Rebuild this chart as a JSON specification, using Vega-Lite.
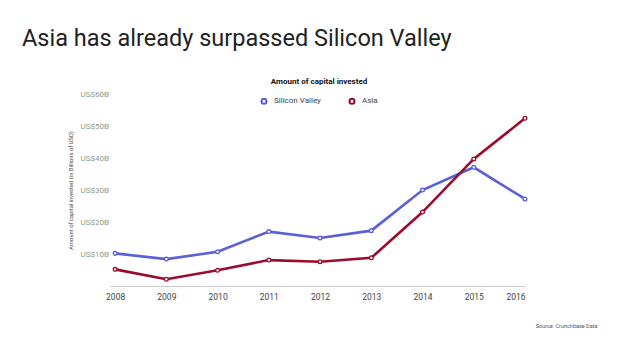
{
  "$schema": "https://vega.github.io/schema/vega-lite/v6.json",
  "width": 415,
  "height": 192,
  "autosize": "none",
  "padding": {"left": 110, "top": 94, "right": 93, "bottom": 59},
  "background": "white",
  "title": {
    "text": "Asia has already surpassed Silicon Valley",
    "anchor": "start",
    "frame": "group",
    "font": "Roboto",
    "fontSize": 23.5,
    "fontWeight": 400,
    "color": "#222222",
    "dx": -88,
    "offset": 28
  },
  "data": {
    "values": [
      {"year": 2008, "region": "Silicon Valley", "value": 10.2},
      {"year": 2009, "region": "Silicon Valley", "value": 8.4},
      {"year": 2010, "region": "Silicon Valley", "value": 10.7},
      {"year": 2011, "region": "Silicon Valley", "value": 17.0},
      {"year": 2012, "region": "Silicon Valley", "value": 15.0},
      {"year": 2013, "region": "Silicon Valley", "value": 17.3},
      {"year": 2014, "region": "Silicon Valley", "value": 30.0},
      {"year": 2015, "region": "Silicon Valley", "value": 37.1},
      {"year": 2016, "region": "Silicon Valley", "value": 27.2},
      {"year": 2008, "region": "Asia", "value": 5.2},
      {"year": 2009, "region": "Asia", "value": 2.1},
      {"year": 2010, "region": "Asia", "value": 4.9},
      {"year": 2011, "region": "Asia", "value": 8.1},
      {"year": 2012, "region": "Asia", "value": 7.6},
      {"year": 2013, "region": "Asia", "value": 8.8},
      {"year": 2014, "region": "Asia", "value": 23.1},
      {"year": 2015, "region": "Asia", "value": 39.7},
      {"year": 2016, "region": "Asia", "value": 52.4}
    ]
  },
  "encoding": {
    "x": {
      "field": "year",
      "type": "quantitative",
      "scale": {"domain": [2007.9, 2016], "nice": false, "zero": false},
      "axis": {
        "values": [2008, 2009, 2010, 2011, 2012, 2013, 2014, 2015, 2016],
        "format": "d",
        "grid": false,
        "ticks": false,
        "domainColor": "#cccccc",
        "labelColor": "#444444",
        "labelFont": "Roboto",
        "labelFontSize": 8.5,
        "labelPadding": 6,
        "title": "Source: Crunchbase Data",
        "titleFont": "Roboto",
        "titleFontSize": 5.5,
        "titleFontWeight": 400,
        "titleColor": "#555555",
        "titleAlign": "right",
        "titleBaseline": "middle",
        "titleX": 487,
        "titleY": 39
      }
    },
    "y": {
      "field": "value",
      "type": "quantitative",
      "scale": {"domain": [0, 60], "nice": false},
      "axis": {
        "values": [10, 20, 30, 40, 50, 60],
        "labelExpr": "'US$' + datum.value + 'B'",
        "grid": false,
        "ticks": false,
        "domain": false,
        "labelColor": "#879a8c",
        "labelFont": "Roboto",
        "labelFontSize": 8,
        "labelAlign": "left",
        "labelPadding": 30,
        "title": "Amount of capital invested (in Billions of USD)",
        "titleFont": "Roboto",
        "titleFontSize": 5.8,
        "titleFontWeight": 400,
        "titleColor": "#444444",
        "titleAngle": -90,
        "titleAlign": "center",
        "titleBaseline": "middle",
        "titleX": -40,
        "titleY": 96
      }
    },
    "color": {
      "field": "region",
      "type": "nominal",
      "scale": {"domain": ["Silicon Valley", "Asia"], "range": ["#5a60d6", "#9b0b2b"]},
      "legend": {
        "title": "Amount of capital invested",
        "orient": "none",
        "direction": "horizontal",
        "legendX": 150,
        "legendY": -16,
        "titleAnchor": "middle",
        "titleFont": "Roboto",
        "titleFontSize": 8,
        "titleFontWeight": "bold",
        "titleColor": "#111111",
        "titlePadding": 11,
        "labelFont": "Roboto",
        "labelFontSize": 8,
        "labelColor": "#444444",
        "symbolType": "circle",
        "symbolFillColor": "white",
        "symbolStrokeWidth": 2,
        "symbolSize": 25,
        "columnPadding": 24,
        "labelOffset": 6
      }
    }
  },
  "layer": [
    {"mark": {"type": "line", "strokeWidth": 2.6}},
    {"mark": {"type": "point", "shape": "circle", "filled": false, "fill": "white", "strokeWidth": 1.3, "size": 14, "opacity": 1}}
  ],
  "config": {"view": {"stroke": null}}
}
